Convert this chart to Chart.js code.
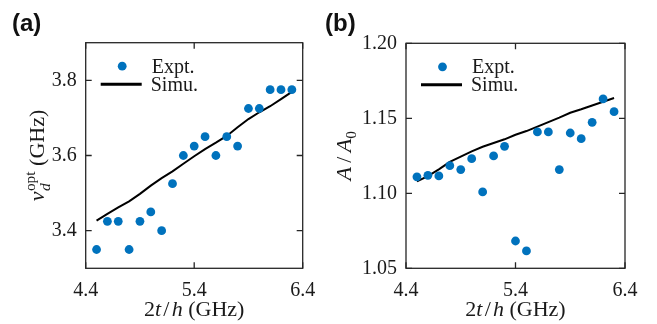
<!DOCTYPE html>
<html>
<head>
<meta charset="utf-8">
<script src="https://cdn.jsdelivr.net/npm/chart.js@4.4.1/dist/chart.umd.min.js"></script>
<style>
    body { margin: 0; background: #fff; }
    .wrap { position: relative; width: 657px; height: 324px; }
    canvas { position: absolute; top: 0; }
    #chartA { left: 0; }
    #chartB { left: 320px; }
</style>
</head>
<body>
<div class="wrap">
    <canvas id="chartA" width="330" height="324"></canvas>
    <canvas id="chartB" width="337" height="324"></canvas>
</div>
<script>
// Data
const freq = [4.5, 4.6, 4.7, 4.8, 4.9, 5.0, 5.1, 5.2, 5.3, 5.4, 5.5, 5.6, 5.7, 5.8, 5.9, 6.0, 6.1, 6.2, 6.3];
const nuExpt = [3.35, 3.425, 3.425, 3.35, 3.425, 3.45, 3.40, 3.525, 3.60, 3.625, 3.65, 3.60, 3.65, 3.625, 3.725, 3.725, 3.775, 3.775, 3.775];
const nuSimu = [3.427, 3.445, 3.462, 3.478, 3.498, 3.52, 3.54, 3.558, 3.578, 3.598, 3.617, 3.634, 3.652, 3.675, 3.697, 3.715, 3.731, 3.75, 3.769];
const ampExpt = [1.111, 1.112, 1.1116, 1.1184, 1.1158, 1.1231, 1.1009, 1.1249, 1.1313, 1.0682, 1.0616, 1.1409, 1.1409, 1.1158, 1.1402, 1.1364, 1.1473, 1.1629, 1.1544];
const ampSimu = [1.108, 1.1115, 1.116, 1.121, 1.1245, 1.128, 1.131, 1.1335, 1.136, 1.139, 1.1415, 1.1445, 1.1475, 1.1505, 1.1537, 1.156, 1.1585, 1.161, 1.1635];
const xTicks = [4.4, 5.4, 6.4];
const nuTicks = [3.4, 3.6, 3.8];
const ampTicks = [1.05, 1.10, 1.15, 1.20];

const BLUE = 'rgb(0,114,189)';
const INK = '#1a1a1a';
const SERIF = '"Liberation Serif", "Times New Roman", serif';

// draw a run of text pieces (italic / sub / sup), centred on x=0 at baseline y=0
function drawRich(ctx, parts, size) {
    const font = p => (p.it ? 'italic ' : '') + (size * (p.sc || 1)) + 'px ' + SERIF;
    let total = 0, last = 0;
    parts.forEach(p => {
        ctx.font = font(p);
        const w = ctx.measureText(p.t).width + (p.gap || 0) * size;
        if (p.stack) { total = total - last + Math.max(last, w); last = Math.max(last, w); }
        else { total += w; last = w; }
    });
    let x = -total / 2, start = x;
    last = 0;
    parts.forEach(p => {
        ctx.font = font(p);
        const w = ctx.measureText(p.t).width + (p.gap || 0) * size;
        if (p.stack) x = start;
        ctx.fillText(p.t, x, (p.dy || 0) * size);
        if (p.stack) { x = start + Math.max(last, w); }
        else { start = x; x += w; }
        last = w;
    });
}

const panelDecor = {
    id: 'panelDecor',
    afterDraw(chart, args, o) {
        const { ctx, chartArea: a } = chart;
        const xs = chart.scales.x, ys = chart.scales.y;
        ctx.save();
        // frame with inward ticks on all four sides
        ctx.strokeStyle = '#262626';
        ctx.lineWidth = 1.3;
        ctx.strokeRect(a.left, a.top, a.right - a.left, a.bottom - a.top);
        const tl = 6;
        ctx.beginPath();
        o.xTicks.forEach(v => {
            const px = xs.getPixelForValue(v);
            ctx.moveTo(px, a.bottom); ctx.lineTo(px, a.bottom - tl);
            ctx.moveTo(px, a.top); ctx.lineTo(px, a.top + tl);
        });
        o.yTicks.forEach(v => {
            const py = ys.getPixelForValue(v);
            ctx.moveTo(a.left, py); ctx.lineTo(a.left + tl, py);
            ctx.moveTo(a.right, py); ctx.lineTo(a.right - tl, py);
        });
        ctx.stroke();

        // legend
        const lx = a.left, ly = a.top;
        ctx.fillStyle = BLUE;
        ctx.beginPath();
        ctx.arc(lx + 36.5, ly + 23.5, 4.4, 0, Math.PI * 2);
        ctx.fill();
        ctx.strokeStyle = '#000';
        ctx.lineWidth = 3;
        ctx.beginPath();
        ctx.moveTo(lx + 15, ly + 41.5); ctx.lineTo(lx + 56, ly + 41.5);
        ctx.stroke();
        ctx.fillStyle = INK;
        ctx.font = '20px ' + SERIF;
        ctx.textBaseline = 'alphabetic';
        ctx.fillText('Expt.', lx + 66, ly + 30);
        ctx.fillText('Simu.', lx + 65, ly + 48);

        // x title
        ctx.save();
        ctx.translate((a.left + a.right) / 2, 316);
        drawRich(ctx, [
            { t: '2' }, { t: 't', it: true, gap: 0.1 }, { t: '/', gap: 0.1 }, { t: 'h', it: true }, { t: ' (GHz)' }
        ], 22);
        ctx.restore();

        // y title
        ctx.save();
        ctx.translate(o.yTitleX, (a.top + a.bottom) / 2);
        ctx.rotate(-Math.PI / 2);
        drawRich(ctx, o.yTitle, 22);
        ctx.restore();

        // panel letter
        ctx.font = 'bold 24px "Liberation Sans", Arial, sans-serif';
        ctx.fillStyle = '#111';
        ctx.fillText(o.letter, o.letterX, 31);
        ctx.restore();
    }
};

function makePanel(id, expt, simu, yMin, yMax, yTicks, digits, axisW, pad, decor) {
    return new Chart(document.getElementById(id), {
        type: 'scatter',
        data: {
            datasets: [
                {
                    label: 'Simu.',
                    data: freq.map((f, i) => ({ x: f, y: simu[i] })),
                    showLine: true,
                    borderColor: '#000',
                    borderWidth: 2,
                    pointRadius: 0,
                    order: 2
                },
                {
                    label: 'Expt.',
                    data: freq.map((f, i) => ({ x: f, y: expt[i] })),
                    backgroundColor: BLUE,
                    borderWidth: 0,
                    pointRadius: 4.4,
                    order: 1
                }
            ]
        },
        options: {
            responsive: false,
            animation: false,
            layout: { padding: pad },
            plugins: { legend: { display: false }, tooltip: { enabled: false }, panelDecor: decor },
            scales: {
                x: {
                    type: 'linear', min: 4.4, max: 6.4,
                    afterBuildTicks: s => { s.ticks = xTicks.map(v => ({ value: v })); },
                    afterFit: s => { s.height = 55.7; },
                    grid: { display: false, drawTicks: false },
                    border: { display: false },
                    ticks: { padding: 10, color: INK, font: { family: SERIF, size: 20 }, callback: v => v.toFixed(1) }
                },
                y: {
                    type: 'linear', min: yMin, max: yMax,
                    afterBuildTicks: s => { s.ticks = yTicks.map(v => ({ value: v })); },
                    afterFit: s => { s.width = axisW; },
                    grid: { display: false, drawTicks: false },
                    border: { display: false },
                    ticks: { padding: 9, color: INK, font: { family: SERIF, size: 20 }, callback: v => v.toFixed(digits) }
                }
            }
        },
        plugins: [panelDecor]
    });
}

makePanel('chartA', nuExpt, nuSimu, 3.3, 3.9, nuTicks, 1, 85.7,
    { top: 42.7, right: 27.3, left: 0, bottom: 0 },
    {
        xTicks: xTicks, yTicks: nuTicks, letter: '(a)', letterX: 12, yTitleX: 44,
        yTitle: [
            { t: 'ν', it: true, gap: 0.02 },
            { t: 'opt', dy: -0.42, sc: 0.7 },
            { t: 'd', it: true, dy: 0.28, sc: 0.7, stack: true },
            { t: ' (GHz)' }
        ]
    });

makePanel('chartB', ampExpt, ampSimu, 1.05, 1.20, ampTicks, 2, 86,
    { top: 43.3, right: 32, left: 0, bottom: 0 },
    {
        xTicks: xTicks, yTicks: ampTicks, letter: '(b)', letterX: 5, yTitleX: 31,
        yTitle: [
            { t: 'A', it: true, gap: 0.2 }, { t: '/', gap: 0.2 }, { t: 'A', it: true }, { t: '0', dy: 0.22, sc: 0.7 }
        ]
    });
</script>
</body>
</html>
